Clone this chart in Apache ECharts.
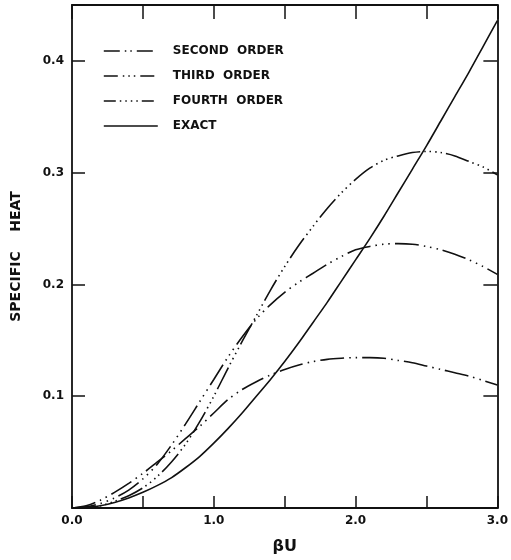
<!DOCTYPE html>
<html>
<head>
<meta charset="utf-8">
<script src="https://cdn.jsdelivr.net/npm/echarts@6/dist/echarts.min.js"></script>
<style>
html,body{margin:0;padding:0;background:#fff;}
#chart{width:511px;height:560px;}
</style>
</head>
<body>
<div id="chart"></div>
<script>
var betaU = [0.0,0.1,0.2,0.3,0.4,0.5,0.6,0.7,0.8,0.9,1.0,1.1,1.2,1.3,1.4,1.5,1.6,1.7,1.8,1.9,2.0,2.1,2.2,2.3,2.4,2.5,2.6,2.7,2.8,2.9,3.0];
var secondOrder = [0,0.002,0.007,0.014,0.022,0.031,0.041,0.051,0.062,0.073,0.085,0.097,0.106,0.113,0.119,0.124,0.128,0.131,0.133,0.134,0.1345,0.1345,0.134,0.132,0.130,0.127,0.124,0.121,0.118,0.114,0.110];
var thirdOrder = [0,0.001,0.004,0.009,0.016,0.026,0.039,0.056,0.075,0.095,0.115,0.135,0.153,0.169,0.182,0.193,0.202,0.210,0.218,0.225,0.231,0.234,0.236,0.2365,0.236,0.234,0.231,0.227,0.222,0.216,0.209];
var fourthOrder = [0,0.0005,0.002,0.006,0.011,0.018,0.028,0.041,0.057,0.077,0.100,0.125,0.149,0.172,0.195,0.216,0.235,0.252,0.268,0.282,0.294,0.304,0.311,0.315,0.318,0.319,0.318,0.315,0.310,0.305,0.298];
var exact = [0,0.0005,0.002,0.005,0.009,0.014,0.020,0.027,0.036,0.046,0.058,0.071,0.085,0.100,0.115,0.131,0.148,0.166,0.184,0.203,0.222,0.241,0.261,0.282,0.303,0.324,0.346,0.368,0.390,0.413,0.436];
var seriesNames = ['SECOND  ORDER','THIRD  ORDER','FOURTH  ORDER','EXACT'];
var xTickLabels = ['0.0','1.0','2.0','3.0'];
var yTickLabels = ['0.1','0.2','0.3','0.4'];

function pairs(ys){ return betaU.map(function(x,i){ return [x, ys[i]]; }); }

var ink = '#111';
var font = 'DejaVu Sans';
var dashS2 = [24,5,1.5,5,1.5,5];
var dashS3 = [24,5,1.5,5,1.5,5,1.5,5];
var dashS4 = [24,4,1.5,4,1.5,4,1.5,4,1.5,4];

function mkSeries(name, ys, dash){
  return {
    name: name, type: 'line', data: pairs(ys), smooth: 0.3, symbol: 'none',
    lineStyle: {color: ink, width: 1.6, type: dash},
    itemStyle: {color: ink}, silent: true, animation: false
  };
}

var hidden = {color: 'rgba(0,0,0,0)', opacity: 0, borderWidth: 0};
var axisLineStyle = {show: true, onZero: false, lineStyle: {color: ink, width: 1.8}};
var chart = echarts.init(document.getElementById('chart'), null, {renderer: 'canvas'});
chart.setOption({
  backgroundColor: '#fff',
  animation: false,
  grid: {left: 72, right: 11, top: 5, bottom: 49, containLabel: false},
  legend: {
    orient: 'vertical', left: 98, top: 40, itemWidth: 54, itemHeight: 14, itemGap: 13,
    itemStyle: hidden,
    textStyle: {fontFamily: font, fontSize: 12, fontWeight: 'bold', color: ink, padding: [0,0,0,10]},
    data: [
      {name: seriesNames[0], itemStyle: hidden, lineStyle: {type: [16,5,1.5,4,1.5,5], width: 1.6, color: ink}},
      {name: seriesNames[1], itemStyle: hidden, lineStyle: {type: [14,5,1.5,4,1.5,4,1.5,5], width: 1.6, color: ink}},
      {name: seriesNames[2], itemStyle: hidden, lineStyle: {type: [12,4,1.5,4,1.5,4,1.5,4,1.5,4], width: 1.6, color: ink}},
      {name: seriesNames[3], itemStyle: hidden, lineStyle: {type: 'solid', width: 1.6, color: ink}}
    ]
  },
  xAxis: [{
    type: 'value', min: 0, max: 3, interval: 0.5, position: 'bottom',
    name: 'βU', nameLocation: 'middle', nameGap: 31,
    nameTextStyle: {fontFamily: font, fontSize: 16, fontWeight: 'bold', color: ink},
    axisLine: axisLineStyle,
    axisTick: {inside: true, length: 12, lineStyle: {color: ink, width: 1.5}},
    axisLabel: {fontFamily: font, fontSize: 12, fontWeight: 'bold', color: ink, margin: 7,
      formatter: function(v){ var s = v.toFixed(1); return xTickLabels.indexOf(s) >= 0 ? s : ''; }},
    splitLine: {show: false}
  },{
    type: 'value', min: 0, max: 3, interval: 0.5, position: 'top',
    axisLine: axisLineStyle,
    axisTick: {inside: true, length: 14, lineStyle: {color: ink, width: 1.5}},
    axisLabel: {show: false}, splitLine: {show: false}
  }],
  yAxis: [{
    type: 'value', min: 0, max: 0.45, interval: 0.1, position: 'left',
    name: 'SPECIFIC    HEAT', nameLocation: 'middle', nameGap: 49,
    nameTextStyle: {fontFamily: font, fontSize: 14, fontWeight: 'bold', color: ink},
    axisLine: axisLineStyle,
    axisTick: {inside: true, length: 13, lineStyle: {color: ink, width: 1.5}},
    axisLabel: {fontFamily: font, fontSize: 12, fontWeight: 'bold', color: ink, margin: 8,
      formatter: function(v){ var s = v.toFixed(1); return (yTickLabels.indexOf(s) >= 0 && Math.abs(v - parseFloat(s)) < 1e-9) ? s : ''; }},
    splitLine: {show: false}
  },{
    type: 'value', min: 0, max: 0.45, interval: 0.1, position: 'right',
    axisLine: axisLineStyle,
    axisTick: {inside: true, length: 14, lineStyle: {color: ink, width: 1.5}},
    axisLabel: {show: false}, splitLine: {show: false}
  }],
  series: [
    mkSeries(seriesNames[0], secondOrder, dashS2),
    mkSeries(seriesNames[1], thirdOrder, dashS3),
    mkSeries(seriesNames[2], fourthOrder, dashS4),
    mkSeries(seriesNames[3], exact, 'solid')
  ]
});
</script>
</body>
</html>
